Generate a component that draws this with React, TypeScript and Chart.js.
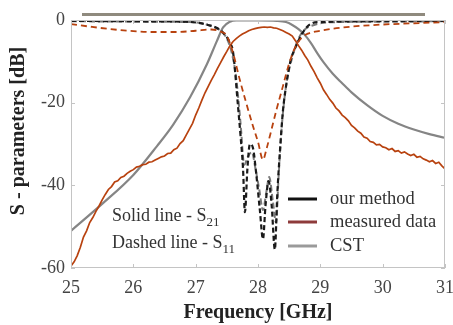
import React, { useEffect, useRef } from "react";
import { Chart, registerables } from "chart.js";

Chart.register(...registerables);

const xTicks = [25, 26, 27, 28, 29, 30, 31];
const yTicks = [0, -20, -40, -60];

// Measured S21 (step 0.05 GHz from 25.00)
const measS21Start = 25;
const measS21Step = 0.05;
const measS21 = [
  -59.5, -58.5, -57, -55, -52.5, -51, -49, -47.8, -46.3, -45,
  -43.5, -42.2, -41, -40.3, -39.2, -38.9, -38.1, -37.8, -37.1, -36.6,
  -36.2, -35.6, -35.4, -35, -34.9, -34.4, -34.3, -33.9, -33.5, -33.1,
  -32.9, -32.3, -32.2, -31.4, -31.0, -29.9, -29.2, -27.8, -26.4, -25,
  -23, -21.3, -19.4, -17.6, -16.1, -14.6, -13.2, -11.7, -10.3, -8.9,
  -7.6, -6.2, -5.2, -4.5, -3.9, -3.4, -3.0, -2.6, -2.3, -2.1,
  -1.9, -1.8, -1.7, -1.8, -1.7, -1.9, -2.0, -2.3, -2.6, -3.0,
  -3.4, -3.9, -5.0, -6.2, -7.3, -8.6, -9.7, -11.2, -12.5, -14,
  -15.3, -16.9, -18, -19.2, -20.1, -21.3, -22, -23, -23.6, -24.4,
  -25.5, -26.1, -26.9, -27.4, -28.3, -28.6, -29.4, -29.6, -30.2, -30.1,
  -30.7, -30.9, -31.4, -31.1, -31.8, -31.6, -32.2, -31.9, -32.4, -32.8,
  -32.5, -33.2, -33.0, -33.6, -33.9, -34.3, -34.0, -34.7, -34.4, -35.3,
  -36.0,
];

// Measured S11
const measS11Freq = [25, 25.3, 25.63, 26, 26.3, 26.7, 27.0, 27.25, 27.4, 27.5, 27.6, 27.7, 27.8, 27.92, 28.0, 28.08, 28.14, 28.2, 28.3, 28.4, 28.5, 28.6, 28.7, 28.8, 29.0, 29.2, 29.5, 30, 30.5, 31];
const measS11 = [-1, -1.6, -2.2, -2.7, -2.9, -2.9, -2.6, -2.3, -2.8, -3.8, -8, -14, -19.5, -25.7, -29.5, -33.8, -31, -27.5, -21.5, -16, -10.5, -6.5, -4.3, -3.3, -2.6, -2.1, -1.6, -1.1, -0.8, -0.5];

// CST S21
const cstS21Freq = [25, 25.5, 26, 26.38, 26.64, 26.91, 27.18, 27.34, 27.44, 27.55, 27.65, 27.8, 28.0, 28.3, 28.45, 28.55, 28.65, 28.75, 28.85, 28.95, 29.05, 29.2, 29.35, 29.5, 29.75, 30, 30.25, 30.5, 30.75, 31];
const cstS21 = [-51, -44.5, -37.5, -30.5, -25.3, -18.7, -10.7, -5.1, -1.8, -0.4, -0.1, -0.1, -0.1, -0.2, -0.5, -1.2, -2.2, -3.6, -5.6, -8, -10.2, -13, -15.3, -17.5, -20.6, -23.2, -25.1, -26.5, -27.6, -28.5];

// CST S11
const cstS11Freq = [25, 26, 26.9, 27.1, 27.25, 27.4, 27.5, 27.58, 27.65, 27.72, 27.78, 27.84, 27.9, 27.96, 28.02, 28.08, 28.13, 28.18, 28.24, 28.29, 28.33, 28.38, 28.45, 28.55, 28.65, 28.75, 28.9, 29.1, 30, 31];
const cstS11 = [-0.3, -0.4, -0.5, -0.8, -1.5, -2.6, -4.5, -8, -14, -25, -35, -33, -32, -36, -41, -46, -42, -38, -44, -49, -38, -26, -16, -9, -4.5, -2.3, -1.2, -0.6, -0.4, -0.3];

// Our method S11
const oursS11Freq = [25, 26, 26.8, 27.0, 27.2, 27.35, 27.45, 27.55, 27.6, 27.68, 27.72, 27.76, 27.79, 27.83, 27.87, 27.92, 27.97, 28.03, 28.08, 28.12, 28.17, 28.22, 28.27, 28.31, 28.36, 28.4, 28.45, 28.52, 28.62, 28.72, 28.84, 29, 30, 31];
const oursS11 = [-0.2, -0.3, -0.4, -0.6, -1.2, -2.0, -3.2, -5.5, -7.8, -21, -28, -36, -46.5, -36, -30, -31, -37, -46, -53, -45, -39, -45, -55.5, -42, -30, -22, -16, -10, -6, -3, -1, -0.5, -0.3, -0.2];

const legendLabels = ["our method", "measured data", "CST"];
const legendColors = ["#111111", "#8e3b3b", "#9a9a9a"];

const RED = "#b8420f";
const SERIF = "'Liberation Serif', 'DejaVu Serif', serif";

const pts = (fs: number[], vs: number[]) => vs.map((v, i) => ({ x: fs[i], y: v }));

export default function App() {
  const ref = useRef<HTMLCanvasElement | null>(null);
  useEffect(() => {
    document.body.style.margin = "0";
    const canvas = ref.current!;
    const measFreq = measS21.map((_, i) => measS21Start + i * measS21Step);

    const decor = {
      id: "decor",
      afterDraw(chart: any) {
        const ctx = chart.ctx as CanvasRenderingContext2D;
        const a = chart.chartArea;
        const xs = chart.scales.x;
        const ys = chart.scales.y;
        ctx.save();
        // top decorative bar
        ctx.fillStyle = "#8f8a7e";
        ctx.fillRect(a.left + 11, a.top - 7, a.right - a.left - 31, 3);
        // box
        ctx.strokeStyle = "#c4c4c4";
        ctx.lineWidth = 1;
        ctx.strokeRect(a.left + 0.5, a.top + 0.5, a.right - a.left - 1, a.bottom - a.top - 1);
        // inward ticks
        ctx.beginPath();
        for (const t of xTicks) {
          const px = Math.round(xs.getPixelForValue(t)) + 0.5;
          ctx.moveTo(px, a.bottom);
          ctx.lineTo(px, a.bottom - 4);
          ctx.moveTo(px, a.top);
          ctx.lineTo(px, a.top + 4);
        }
        for (const t of yTicks) {
          const py = Math.round(ys.getPixelForValue(t)) + 0.5;
          ctx.moveTo(a.left, py);
          ctx.lineTo(a.left + 4, py);
          ctx.moveTo(a.right, py);
          ctx.lineTo(a.right - 4, py);
        }
        ctx.stroke();
        // titles
        ctx.fillStyle = "#222";
        ctx.font = `bold 20px ${SERIF}`;
        ctx.textAlign = "center";
        ctx.textBaseline = "middle";
        ctx.fillText("Frequency [GHz]", (a.left + a.right) / 2, 313);
        ctx.save();
        ctx.translate(19, 131);
        ctx.rotate(-Math.PI / 2);
        ctx.fillText("S - parameters [dB]", 0, 0);
        ctx.restore();
        // annotations
        ctx.fillStyle = "#333";
        ctx.textAlign = "left";
        ctx.textBaseline = "alphabetic";
        const drawSub = (main: string, sub: string, x: number, y: number) => {
          ctx.font = `18px ${SERIF}`;
          ctx.fillText(main, x, y);
          const w = ctx.measureText(main).width;
          ctx.font = `13px ${SERIF}`;
          ctx.fillText(sub, x + w, y + 5);
        };
        drawSub("Solid line - S", "21", 112, 221);
        drawSub("Dashed line - S", "11", 112, 248);
        // legend
        const rows = [199, 222, 246];
        legendLabels.forEach((lab, i) => {
          ctx.strokeStyle = legendColors[i];
          ctx.lineWidth = 3;
          ctx.setLineDash([]);
          ctx.beginPath();
          ctx.moveTo(288, rows[i]);
          ctx.lineTo(317, rows[i]);
          ctx.stroke();
          ctx.fillStyle = "#333";
          ctx.font = `18.5px ${SERIF}`;
          ctx.textBaseline = "middle";
          ctx.fillText(lab, 330, rows[i]);
        });
        ctx.restore();
      },
    };

    const chart = new Chart(canvas, {
      type: "line",
      data: {
        datasets: [
          {
            label: "measured S21",
            data: pts(measFreq, measS21),
            borderColor: RED,
            borderWidth: 1.7,
            pointRadius: 0,
            tension: 0,
          },
          {
            label: "measured S11",
            data: pts(measS11Freq, measS11),
            borderColor: RED,
            borderWidth: 1.8,
            borderDash: [6, 4],
            pointRadius: 0,
            cubicInterpolationMode: "monotone",
          },
          {
            label: "our method S11",
            data: pts(oursS11Freq, oursS11),
            borderColor: "#1a1a1a",
            borderWidth: 2.2,
            borderDash: [5, 3],
            pointRadius: 0,
            cubicInterpolationMode: "monotone",
          },
          {
            label: "CST S11",
            data: pts(cstS11Freq, cstS11),
            borderColor: "#7a7a7a",
            borderWidth: 2,
            borderDash: [6, 3],
            pointRadius: 0,
            cubicInterpolationMode: "monotone",
          },
          {
            label: "CST S21",
            data: pts(cstS21Freq, cstS21),
            borderColor: "#858585",
            borderWidth: 2.2,
            pointRadius: 0,
            cubicInterpolationMode: "monotone",
          },
        ],
      },
      options: {
        animation: false,
        responsive: false,
        maintainAspectRatio: false,
        layout: { padding: { top: 20, right: 8, left: 0, bottom: 0 } },
        plugins: { legend: { display: false }, tooltip: { enabled: false } },
        scales: {
          x: {
            type: "linear",
            min: 25,
            max: 31,
            afterFit: (s: any) => {
              s.height = 57;
              s.paddingLeft = 0;
              s.paddingRight = 0;
            },
            afterBuildTicks: (s: any) => {
              s.ticks = xTicks.map((v) => ({ value: v }));
            },
            grid: { display: false, drawTicks: false },
            border: { display: false },
            ticks: {
              color: "#444",
              font: { family: SERIF, size: 18 },
              padding: 9,
              maxRotation: 0,
            },
          },
          y: {
            type: "linear",
            min: -60,
            max: 0,
            afterFit: (s: any) => {
              s.width = 71;
              s.paddingTop = 0;
              s.paddingBottom = 0;
            },
            afterBuildTicks: (s: any) => {
              s.ticks = yTicks.map((v) => ({ value: v }));
            },
            grid: { display: false, drawTicks: false },
            border: { display: false },
            ticks: {
              color: "#444",
              font: { family: SERIF, size: 18 },
              padding: 6,
            },
          },
        },
      },
      plugins: [decor],
    });
    return () => chart.destroy();
  }, []);
  return (
    <div style={{ width: 453, height: 325 }}>
      <canvas ref={ref} width={453} height={325} style={{ display: "block" }} />
    </div>
  );
}
